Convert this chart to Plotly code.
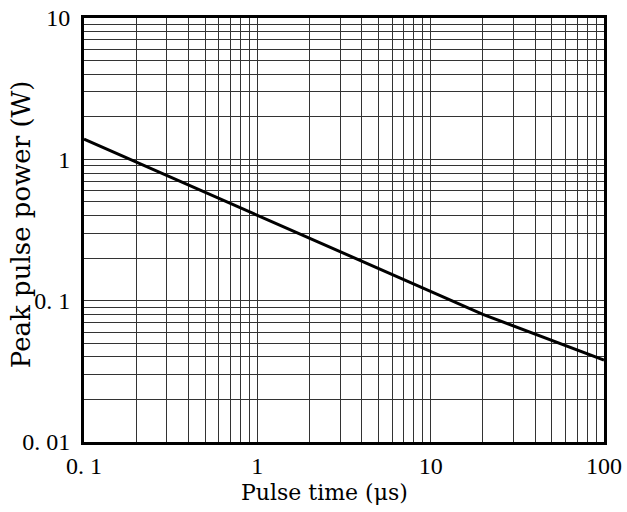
import plotly.graph_objects as go

pulse_time_us = [0.1, 1, 10, 20, 100]
peak_power_w = [1.39, 0.40, 0.116, 0.080, 0.038]

x_tick_vals = [0.1, 1, 10, 100]
x_tick_text = ["0. 1", "1", "10", "100"]
y_tick_vals = [0.01, 0.1, 1, 10]
y_tick_text = ["0. 01", "0. 1", "1", "10"]

x_minor = [m * d for d in [0.1, 1, 10] for m in range(2, 10)]
y_minor = [m * d for d in [0.01, 0.1, 1] for m in range(2, 10)]

TICK_FONT = "Liberation Serif"
TITLE_FONT = "DejaVu Serif"
GRID = "#333333"

fig = go.Figure()
fig.add_trace(go.Scatter(
    x=pulse_time_us, y=peak_power_w, mode="lines",
    line=dict(color="black", width=3), showlegend=False,
))

axis_common = dict(
    type="log", showline=True, linecolor="black", linewidth=3, mirror=True,
    showgrid=True, gridcolor=GRID, gridwidth=1, ticks="", zeroline=False,
    tickfont=dict(family=TICK_FONT, size=24, color="black"), automargin=False,
    ticklabeloverflow="allow",
)

fig.update_xaxes(
    **axis_common,
    range=[-1, 2], tickmode="array", tickvals=x_tick_vals, ticktext=x_tick_text,
    minor=dict(tickvals=x_minor, showgrid=True, gridcolor=GRID, gridwidth=1, ticks=""),
    ticklabelstandoff=0,
)
fig.update_yaxes(
    **axis_common,
    range=[-2, 1], tickmode="array", tickvals=y_tick_vals, ticktext=y_tick_text,
    minor=dict(tickvals=y_minor, showgrid=True, gridcolor=GRID, gridwidth=1, ticks=""),
    ticklabelstandoff=6,
)

fig.add_annotation(
    text="Pulse time (μs)", xref="paper", yref="paper", x=0.4625, y=-0.118,
    xanchor="center", yanchor="middle", showarrow=False,
    font=dict(family=TITLE_FONT, size=22, color="black"),
)
fig.add_annotation(
    text="Peak pulse power (W)", xref="paper", yref="paper", x=-0.121, y=0.514,
    xanchor="center", yanchor="middle", textangle=-90, showarrow=False,
    font=dict(family=TITLE_FONT, size=26, color="black"),
)

fig.update_layout(
    width=627, height=512,
    margin=dict(l=84, r=23, t=18, b=70),
    paper_bgcolor="white", plot_bgcolor="white",
)

fig.write_html(
    "out.html",
    config={"displayModeBar": False},
    post_script="document.body.style.margin='0';document.body.style.overflow='hidden';",
)
